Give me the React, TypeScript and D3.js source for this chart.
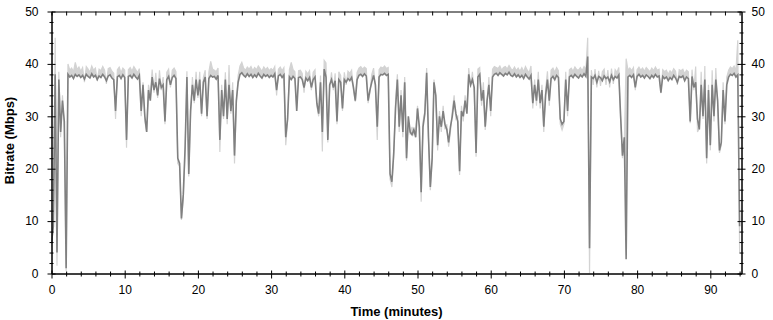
import React, { useEffect, useRef } from "react"
import * as d3 from "d3"

// samples every 0.25 minute, starting at t = 0
const stepMinutes = 0.25

// dark trace: averaged bitrate (Mbps)
const avgRate = [
  6, 9, 38, 4,
  37, 27, 33, 29,
  1, 38, 37.5, 37.8,
  37.2, 38, 37.6, 37.9,
  37.4, 37.8, 37.1, 38,
  37.6, 37.3, 38.1, 37.5,
  37.8, 37, 37.7, 37.4,
  38, 37.5, 36.8, 37.7,
  37.9, 37.3, 37, 31,
  37.5, 37.8, 37.2, 37.9,
  37.4, 25.5, 37.6, 37.8,
  37.3, 38, 37.5, 37.1,
  37.8, 31, 36, 30,
  27, 35, 33, 37.5,
  35, 36.5, 34, 37.2,
  35.5, 36, 29, 37,
  37.6, 36, 37.4, 37.8,
  37.2, 22, 21, 10.5,
  15, 24, 37.5, 19,
  31, 36, 33, 37,
  34, 37, 30.5, 36.5,
  37.5, 30, 37.2, 37.8,
  37.5, 37.6, 37.1, 37.8,
  25.5, 35, 30, 37,
  29.5, 36, 31, 35,
  22.5, 33, 36.5, 38,
  38.3, 37.8, 37.5, 38.1,
  37.6, 38, 37.4, 37.9,
  37.5, 38.2, 37.7, 37.3,
  38, 37.6, 37.9, 37.4,
  37.8, 37.5, 38.1, 35,
  37.7, 38, 37.4, 37.9,
  26, 29.5, 37.5, 37,
  37.6, 37.2, 31, 37.4,
  37.5, 37, 35.5, 37.3,
  36.8, 37.4, 35.5, 37,
  37.5, 32.5, 30.5, 36.5,
  27, 39, 37.5, 25.5,
  36, 37, 35.5, 36.8,
  29, 37, 36.5, 31.5,
  37, 36.5, 37.2, 36.8,
  37.4, 35.5, 33, 37,
  37.8, 38, 37.6, 38.1,
  37.7, 33, 35, 36.5,
  37.8, 36, 28, 37.5,
  38, 37.9, 38.2, 37.8,
  38, 19, 17.5, 23,
  31.5, 37, 28, 34,
  27, 36.5, 22, 30,
  27, 26.5, 27.5, 26,
  31.5, 28, 15.5, 28,
  30.5, 38.3, 26, 16.5,
  22, 36.5, 34, 24.5,
  30, 28, 31, 28.5,
  27.5, 25, 28, 30,
  33, 30.5, 29, 19.5,
  31, 30, 33, 30.5,
  38, 36, 37, 35.5,
  23, 37.5, 38, 33,
  35, 28, 33, 36,
  31, 37.5, 38, 38.2,
  37.8, 38.3, 38, 37.7,
  38.2, 37.9, 38.4, 37.8,
  37.6, 38.1, 37.5, 37.9,
  37.4, 37.8, 37.2, 38,
  37.5, 37.1, 37.8, 32.5,
  36, 33, 37, 32.5,
  35, 28, 34, 37,
  33, 37.2, 37.6, 37,
  37.8, 37.4, 29.5, 28.5,
  29, 37, 31, 37.5,
  37.8, 37.4, 38, 37.6,
  37.3, 37.9, 37.5, 38.1,
  37.6, 41.4, 4.8, 37.5,
  37.2, 37.8, 36.5, 37.6,
  37.4, 36.8, 37.7, 37.2,
  37.5, 36.6, 37.8, 37,
  37.6, 37.3, 37.9, 30,
  22.5, 26, 2.7, 37.5,
  37.8, 37.4, 37.9, 35.5,
  37.6, 38, 37.5, 37.8,
  37.3, 37.9, 37.6, 37.2,
  37.8, 37.4, 38, 37.5,
  37.7, 34.5, 37.6, 37.2,
  37.5, 36.8, 37.4, 37,
  37.8, 37.3, 36.5, 37.6,
  37.4, 37.7, 36.8, 37.5,
  37.2, 29, 37.6, 35.5,
  36.5, 29.5, 27.5, 36,
  30, 37, 22, 35,
  24.5, 36, 30, 37,
  33, 23.5, 25, 35,
  29, 36, 37.5, 38,
  37.8, 38.2, 37.5, 37.9,
  9
]

// light trace: peak bitrate (Mbps)
const peakRate = [
  5, 9, 45, 1.5,
  38.5, 26, 34, 27.5,
  0.5, 40, 38.8, 39.2,
  38.5, 40.3, 38.9, 39.4,
  38.6, 39.3, 36.5, 39.5,
  39, 38.4, 39.6, 38.8,
  39.2, 36.8, 39, 38.7,
  39.5, 38.8, 36.2, 39.1,
  39.3, 38.6, 38.2, 29.5,
  38.9, 39.4, 38.3, 39.2,
  38.8, 24, 38.9, 39.3,
  38.6, 39.5, 38.9, 38.3,
  39.1, 30, 36.5, 29,
  27, 36, 34, 38.9,
  34.5, 38.3, 33.5, 38.8,
  35, 37.5, 28.5, 38.4,
  39, 35.5, 38.8, 39.2,
  38.5, 21, 20.5, 10.2,
  14, 23, 38.6, 18.5,
  30.5, 37.5, 32.5, 38.5,
  33.5, 38.5, 30, 37.5,
  38.8, 29.5, 38.5, 40.5,
  39, 38.8, 38.5, 39.2,
  23.2, 36, 29.5, 38.4,
  28.5, 39.8, 30.5, 36.5,
  21, 32.5, 37.8, 39.6,
  40.3, 39.2, 38.8, 39.4,
  39, 39.5, 38.7, 39.3,
  38.9, 39.6, 39.1, 38.6,
  39.4, 38.9, 39.3, 38.7,
  39.1, 38.8, 39.5, 34,
  39, 39.4, 38.7, 39.3,
  24.5, 29, 38.9, 40.3,
  38.9, 38.5, 31.5, 38.7,
  38.8, 38.2, 34.5, 38.6,
  38.1, 38.7, 35, 38.4,
  38.9, 32, 30, 37.8,
  23.3, 40.7, 40.2, 25,
  35.5, 38.4, 35, 38.2,
  28.5, 38.5, 37.8, 31,
  38.4, 36, 38.6, 38.2,
  38.8, 35, 32.8, 38.4,
  39.2, 39.5, 39, 39.4,
  39.1, 32.5, 34.5, 38,
  39.2, 35.5, 25.5, 38.9,
  39.4, 39.2, 39.6, 39.1,
  39.3, 18, 16.5, 22,
  33, 38, 27, 35,
  26, 37.5, 21.5, 29,
  26.5, 28, 26.5, 27,
  32, 27, 13.7, 29,
  31, 39.2, 25.5, 15.9,
  21.5, 37, 33.5, 23.5,
  31, 27, 32, 27.5,
  28.5, 24.2, 27, 31,
  34, 29.5, 30, 18.8,
  32, 29, 34, 31.5,
  39.2, 35.5, 38.5, 34.5,
  22.3, 39, 39.3, 32,
  36.5, 27.4, 32, 37.5,
  30, 39, 39.5, 39.3,
  39.1, 39.6, 38.8, 39.3,
  39.5, 39, 39.7, 39.1,
  38.8, 39.4, 38.7, 39.2,
  38.6, 39.3, 38.5, 39.5,
  38.8, 38.3, 39.6, 31.5,
  37, 32, 38.5, 31.5,
  36, 27, 35, 38.6,
  32, 38.8, 39.2, 38.4,
  39.3, 38.7, 28.5, 27.4,
  28.5, 38.5, 30, 38.9,
  39.2, 38.6, 39.4, 38.9,
  38.8, 39.3, 38.7, 39.5,
  38.9, 45, 0, 38.8,
  36, 39, 35.5, 38.7,
  35.8, 38.5, 39, 36,
  38.8, 35.5, 39.1, 36.2,
  38.9, 38.4, 39.3, 29,
  22, 25, 41, 38.8,
  39.2, 38.7, 39.3, 35,
  38.9, 39.4, 38.8, 39.2,
  38.6, 39.3, 38.9, 38.5,
  39.2, 38.7, 39.4, 38.8,
  39, 34.4, 38.9, 38.5,
  38.8, 38, 38.7, 38.3,
  39.1, 38.6, 36, 38.9,
  38.7, 39, 38.1, 38.8,
  38.5, 28.7, 38.9, 35,
  39.5, 27, 27.7, 38.5,
  29.5, 39.6, 21, 36,
  23.5, 38.8, 29, 39.2,
  32.5, 23, 24.5, 36.5,
  28.5, 37.5, 38.8, 39.4,
  39.1, 39.6, 38.7, 44.5,
  4
]

const xMajorTicks = [0, 10, 20, 30, 40, 50, 60, 70, 80, 90]
const yMajorTicks = [0, 10, 20, 30, 40, 50]

function drawChart(svgEl: SVGSVGElement) {
  const width = 773
  const height = 320
  const left = 51.5
  const right = 741.5
  const top = 11.5
  const bottom = 273.5

  const x = d3.scaleLinear().domain([0, 94.26]).range([left, right])
  const y = d3.scaleLinear().domain([0, 50]).range([bottom, top])

  const svg = d3.select(svgEl)
  svg.selectAll("*").remove()
  svg.attr("width", width).attr("height", height)

  svg.append("rect").attr("width", width).attr("height", height).attr("fill", "#fff")

  svg.append("clipPath").attr("id", "plot-clip")
    .append("rect")
    .attr("x", left).attr("y", top)
    .attr("width", right - left).attr("height", bottom - top)

  const tx = (i: number) => x(i * stepMinutes)

  const line = d3.line<number>()
    .x((d, i) => tx(i))
    .y(d => y(d))

  // light band between the averaged and the peak trace
  const band = d3.area<number>()
    .x((d, i) => tx(i))
    .y0((d, i) => y(avgRate[i]))
    .y1(d => y(d))

  const plot = svg.append("g").attr("clip-path", "url(#plot-clip)")
  plot.append("path")
    .datum(peakRate)
    .attr("d", band)
    .attr("fill", "#d3d3d3")
  plot.append("path")
    .datum(peakRate)
    .attr("d", line)
    .attr("fill", "none")
    .attr("stroke", "#d3d3d3")
    .attr("stroke-width", 1.2)
  plot.append("path")
    .datum(avgRate)
    .attr("d", line)
    .attr("fill", "none")
    .attr("stroke", "#808080")
    .attr("stroke-width", 1.6)

  const xMinor = d3.range(0, 95, 2).filter(v => v % 10 !== 0)
  const yMinor = d3.range(0, 51, 2).filter(v => v % 10 !== 0)
  const font = "'Liberation Sans', Arial, sans-serif"

  const styleAxis = (g: d3.Selection<SVGGElement, unknown, null, undefined>) => {
    g.attr("font-family", font).attr("font-size", 12)
    g.select(".domain").attr("stroke", "#000")
    g.selectAll(".tick line").attr("stroke", "#000")
    g.selectAll(".tick text").attr("fill", "#000")
  }

  // bottom
  const bx = svg.append("g").attr("transform", `translate(0,${bottom})`)
  bx.call(d3.axisBottom(x).tickValues(xMajorTicks).tickSizeInner(5).tickSizeOuter(0).tickPadding(7))
  bx.selectAll(".tick line").attr("y1", -3)
  styleAxis(bx)
  const bxm = svg.append("g").attr("transform", `translate(0,${bottom})`)
  bxm.call(d3.axisBottom(x).tickValues(xMinor).tickSizeInner(3).tickSizeOuter(0).tickFormat(() => ""))
  bxm.selectAll(".tick line").attr("y1", -2)
  styleAxis(bxm)

  // top
  const tx2 = svg.append("g").attr("transform", `translate(0,${top})`)
  tx2.call(d3.axisTop(x).tickValues(xMajorTicks.concat(xMinor)).tickSizeInner(0).tickSizeOuter(0).tickFormat(() => ""))
  tx2.selectAll(".tick line").attr("y1", 0).attr("y2", 4)
  styleAxis(tx2)

  // left
  const ly = svg.append("g").attr("transform", `translate(${left},0)`)
  ly.call(d3.axisLeft(y).tickValues(yMajorTicks).tickSizeInner(4).tickSizeOuter(0).tickPadding(9))
  ly.selectAll(".tick line").attr("x1", 4)
  styleAxis(ly)
  const lym = svg.append("g").attr("transform", `translate(${left},0)`)
  lym.call(d3.axisLeft(y).tickValues(yMinor).tickSizeInner(2).tickSizeOuter(0).tickFormat(() => ""))
  lym.selectAll(".tick line").attr("x1", 2)
  styleAxis(lym)

  // right
  const ry = svg.append("g").attr("transform", `translate(${right},0)`)
  ry.call(d3.axisRight(y).tickValues(yMajorTicks).tickSizeInner(4).tickSizeOuter(0).tickPadding(6))
  ry.selectAll(".tick line").attr("x1", -4)
  styleAxis(ry)
  const rym = svg.append("g").attr("transform", `translate(${right},0)`)
  rym.call(d3.axisRight(y).tickValues(yMinor).tickSizeInner(2).tickSizeOuter(0).tickFormat(() => ""))
  rym.selectAll(".tick line").attr("x1", -2)
  styleAxis(rym)

  // titles
  svg.append("text")
    .attr("x", (left + right) / 2)
    .attr("y", 316)
    .attr("text-anchor", "middle")
    .attr("font-family", font)
    .attr("font-size", 13)
    .attr("font-weight", "bold")
    .text("Time (minutes)")

  svg.append("text")
    .attr("transform", `translate(14,${(top + bottom) / 2 - 2}) rotate(-90)`)
    .attr("text-anchor", "middle")
    .attr("font-family", font)
    .attr("font-size", 13)
    .attr("font-weight", "bold")
    .text("Bitrate (Mbps)")
}

export default function App() {
  const svgRef = useRef<SVGSVGElement>(null)

  useEffect(() => {
    if (svgRef.current) drawChart(svgRef.current)
  }, [])

  return (
    <svg
      ref={svgRef}
      width={773}
      height={320}
      style={{ position: "absolute", left: 0, top: 0, display: "block" }}
    />
  )
}
